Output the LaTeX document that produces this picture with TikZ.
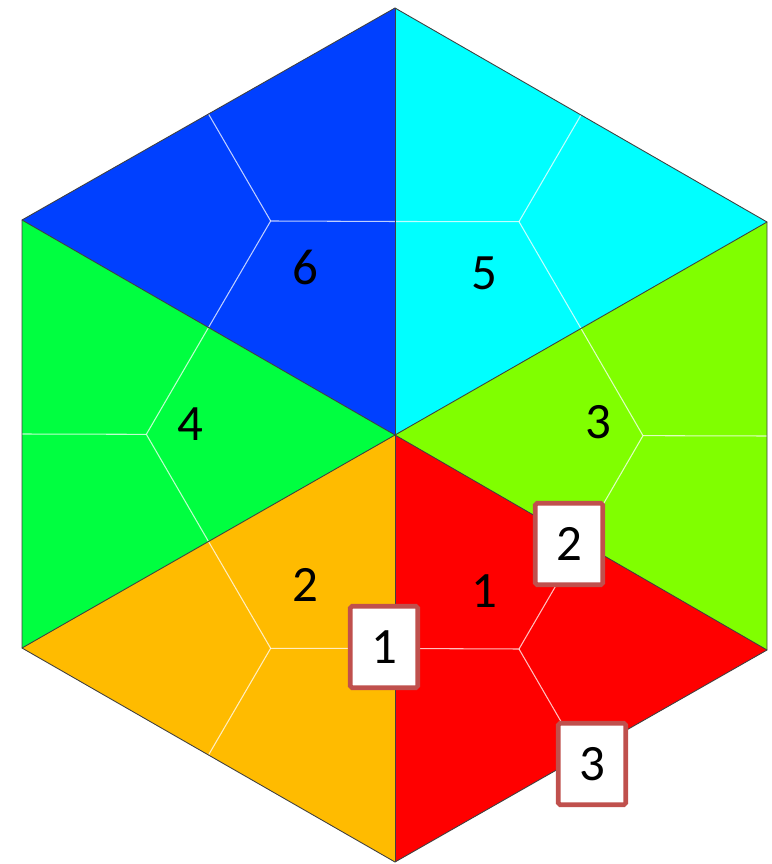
\documentclass[tikz,border=0pt]{standalone}
\usepackage{fontspec}
\setmainfont{Carlito}
\usepackage{tikz}
\usetikzlibrary{calc}
\definecolor{cellone}{HTML}{FF0000}
\definecolor{celltwo}{HTML}{FFBB00}
\definecolor{cellthree}{HTML}{80FF00}
\definecolor{cellfour}{HTML}{00FF40}
\definecolor{cellfive}{HTML}{00FFFF}
\definecolor{cellsix}{HTML}{0040FF}
\definecolor{tagred}{HTML}{C0504D}

\begin{document}
\begin{tikzpicture}[
  x=0.02cm,y=-0.02cm,
  num/.style={font=\fontsize{29}{34}\selectfont,inner sep=0pt},
  tag/.style={draw=tagred,line width=2.6pt,fill=white,rounded corners=1pt,
    minimum width=1.35cm,minimum height=1.63cm,inner sep=0pt,
    font=\fontsize{29}{34}\selectfont},
  edge/.style={draw=black!75,line width=0.5pt},
  dual/.style={draw=white,line width=0.6pt,draw opacity=0.75}
]
  \useasboundingbox (0,0) rectangle (771,864);

  % hexagon corners
  \coordinate (o)  at (395,435);
  \coordinate (t)  at (395,8);
  \coordinate (ur) at (767,222);
  \coordinate (lr) at (767,650);
  \coordinate (b)  at (395,862);
  \coordinate (ll) at (22,648);
  \coordinate (ul) at (22,220);

  % triangles with their dual lines
  \foreach \p/\q/\col in {t/ul/cellsix, ur/t/cellfive, lr/ur/cellthree,
                          b/lr/cellone, ll/b/celltwo, ul/ll/cellfour}{
    \fill[\col] (o) -- (\p) -- (\q) -- cycle;
    \draw[dual] ($(o)!0.5!(\p)$) -- (barycentric cs:o=1,\p=1,\q=1)
      -- ($(o)!0.5!(\q)$);
    \draw[dual] (barycentric cs:o=1,\p=1,\q=1) -- ($(\p)!0.5!(\q)$);
  }

  % outline and spokes
  \draw[edge] (t) -- (ur) -- (lr) -- (b) -- (ll) -- (ul) -- cycle;
  \foreach \p in {t,ur,lr,b,ll,ul}
    \draw[edge] (o) -- (\p);

  % cell numbers
  \node[num] (nsix)   at (305,267) {6};
  \node[num] (nfive)  at (484,273) {5};
  \node[num] (nfour)  at (190,424) {4};
  \node[num] (nthree) at (598,422) {3};
  \node[num] (ntwo)   at (305,585) {2};
  \node[num] (none)   at (484,591) {1};

  % boxed tags
  \node[tag] (tagone)   at (384,647) {1};
  \node[tag] (tagtwo)   at (569,544) {2};
  \node[tag] (tagthree) at (592,764) {3};
\end{tikzpicture}
\end{document}
